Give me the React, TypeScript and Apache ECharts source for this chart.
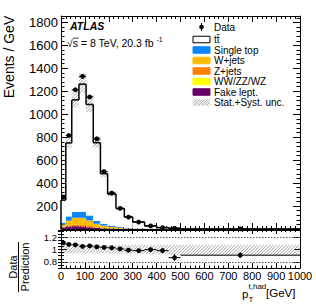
import React, { useEffect, useRef } from 'react';
import * as echarts from 'echarts';

// ---------- data ----------
const binEdges = [0, 20, 45, 75, 105, 135, 165, 195, 230, 265, 300, 350, 400, 450, 500, 1000];
const dataValues = [280, 815, 1213, 1330, 1150, 785, 500, 313, 180, 104, 60, 27, 12, 6, 0.8];
const dataErrors = [4, 6, 6, 7, 6, 5, 4, 3, 2.5, 2, 1.1, 0.8, 0.5, 0.4, 0.04];
const predictionTotal = [252, 750, 1125, 1262, 1085, 752, 482, 304, 178, 105, 61, 27, 12.2, 6.9, 0.88];
const fakeLept = [15, 22, 25, 22, 15, 9, 5, 3, 1.8, 1, 0.5, 0.2, 0.1, 0.05, 0.01];
const diboson = [0.5, 1, 1.2, 1.2, 1, 0.7, 0.5, 0.3, 0.2, 0.1, 0.05, 0.03, 0.01, 0.01, 0.002];
const zJets = [5, 9, 12, 12, 9, 6, 4, 2.5, 1.5, 0.8, 0.4, 0.2, 0.1, 0.05, 0.01];
const wJets = [18, 40, 60, 62, 50, 30, 20, 12, 7, 4, 2, 1, 0.5, 0.25, 0.04];
const singleTop = [16.5, 38, 50, 53, 43, 24, 16.5, 10, 6.3, 4.1, 2, 1.1, 0.5, 0.25, 0.04];
const uncUp = [0.075, 0.075, 0.075, 0.075, 0.075, 0.075, 0.075, 0.075, 0.075, 0.075, 0.075, 0.075, 0.075, 0.075, 0.075];
const uncDown = [0.06, 0.06, 0.06, 0.06, 0.06, 0.06, 0.06, 0.065, 0.065, 0.07, 0.07, 0.075, 0.08, 0.09, 0.1];

const bkgNames = ['Fake lept.', 'WW/ZZ/WZ', 'Z+jets', 'W+jets', 'Single top'];
const bkgSeries = [fakeLept, diboson, zJets, wJets, singleTop];
const bkgColors = ['#660066', '#ffff00', '#ff8000', '#ffbb00', '#0a86ff'];

const FONT = '"Liberation Sans", Arial, Helvetica, sans-serif';

function hatchSegs(x0: number, y0: number, x1: number, y1: number, s: number) {
  const segs: number[][] = [];
  const cStart = Math.ceil((x0 + y0) / s) * s;
  for (let c = cStart; c <= x1 + y1; c += s) {
    const xa = Math.max(x0, c - y1);
    const xb = Math.min(x1, c - y0);
    if (xb > xa) segs.push([xa, c - xa, xb, c - xb]);
  }
  return segs;
}
function hatchGroup(x0: number, y0: number, x1: number, y1: number, s = 3.2) {
  return {
    type: 'group',
    children: hatchSegs(x0, y0, x1, y1, s).map((g) => ({
      type: 'line',
      shape: { x1: g[0], y1: g[1], x2: g[2], y2: g[3] },
      style: { stroke: '#7a7a7a', lineWidth: 0.7 },
    })),
  };
}

export default function App() {
  const ref = useRef<HTMLDivElement>(null);
  useEffect(() => {
    document.body.style.margin = '0';
    const chart = echarts.init(ref.current!, null, { renderer: 'svg' });
    const n = dataValues.length;

    // stacked rectangles
    const stackItems: number[][] = [];
    const cum = new Array(n).fill(0);
    bkgSeries.forEach((arr, k) => {
      for (let i = 0; i < n; i++) {
        stackItems.push([binEdges[i], binEdges[i + 1], cum[i], cum[i] + arr[i], k]);
        cum[i] += arr[i];
      }
    });
    for (let i = 0; i < n; i++) {
      stackItems.push([binEdges[i], binEdges[i + 1], cum[i], predictionTotal[i], 5]);
    }
    const fills = [...bkgColors, '#ffffff'];

    const bandMain = predictionTotal.map((p, i) => [binEdges[i], binEdges[i + 1], p * (1 - uncDown[i]), p * (1 + uncUp[i])]);
    const bandRatio = predictionTotal.map((p, i) => [binEdges[i], binEdges[i + 1], 1 - uncDown[i], 1 + uncUp[i]]);
    const outline = predictionTotal.map((p, i) => [binEdges[i], binEdges[i + 1], p, i + 1 < n ? predictionTotal[i + 1] : 0, i === 0 ? 1 : 0]);
    const pts = dataValues.map((v, i) => [(binEdges[i] + binEdges[i + 1]) / 2, v, binEdges[i], binEdges[i + 1], dataErrors[i]]);
    const ratioPts = dataValues.map((v, i) => [(binEdges[i] + binEdges[i + 1]) / 2, v / predictionTotal[i], binEdges[i], binEdges[i + 1], dataErrors[i] / predictionTotal[i]]);

    const black = { color: '#000', width: 1 };
    const xAx = (gridIndex: number, position: string, labels: boolean, tickLen: number) => ({
      type: 'value', gridIndex, position, min: 0, max: 1000, interval: 100,
      axisLine: { show: true, onZero: false, lineStyle: black },
      axisTick: { show: true, inside: true, length: tickLen, lineStyle: black },
      minorTick: { show: true, splitNumber: 5, length: tickLen / 2, lineStyle: black },
      axisLabel: { show: labels, color: '#000', fontSize: 11, fontFamily: FONT, margin: 2, formatter: (v: number) => String(v) },
      splitLine: { show: false }, minorSplitLine: { show: false },
    });
    const yMain = (position: string, labels: boolean) => ({
      type: 'value', gridIndex: 0, position, min: 0, max: 1856, interval: 200,
      axisLine: { show: true, onZero: false, lineStyle: black },
      axisTick: { show: true, inside: true, length: 7, lineStyle: black },
      minorTick: { show: true, splitNumber: 5, length: 3.5, lineStyle: black },
      axisLabel: {
        show: labels, color: '#000', fontSize: 13, fontFamily: FONT, margin: 3, showMaxLabel: false,
        formatter: (v: number) => (v > 0 && v % 200 === 0 ? String(v) : ''),
      },
      splitLine: { show: false },
    });
    const ratioLabels = [0.8, 1, 1.2];
    const yRatioMajor = (position: string, labels: boolean) => ({
      type: 'value', gridIndex: 1, position, min: 0.7, max: 1.32, interval: 0.05,
      axisLine: { show: true, onZero: false, lineStyle: black },
      axisTick: { show: true, inside: true, length: 6, lineStyle: black, customValues: ratioLabels },
      axisLabel: {
        show: labels, color: '#000', fontSize: 9.5, fontFamily: FONT, margin: 4, customValues: ratioLabels,
        formatter: (v: number) => (Math.abs(v - 1) < 1e-6 ? '1' : v.toFixed(1)),
      },
      splitLine: { show: false },
    });
    const yRatioMinor = (position: string) => ({
      type: 'value', gridIndex: 1, position, min: 0.7, max: 1.32, interval: 0.05,
      axisLine: { show: false },
      axisTick: { show: true, inside: true, length: 3, lineStyle: black },
      axisLabel: { show: false },
      splitLine: { show: false },
    });

    // legend graphics
    const lx = 193, lw = 17, lh = 6.5, tx = 214;
    const rows = [27, 39.5, 50, 60.5, 71, 81.5, 92, 102.5];
    const legendEntries: { label: string; kind: string; color?: string }[] = [
      { label: 'Data', kind: 'data' },
      { label: 't\u0074\u0304', kind: 'box', color: '#ffffff' },
      { label: bkgNames[4], kind: 'box', color: bkgColors[4] },
      { label: bkgNames[3], kind: 'box', color: bkgColors[3] },
      { label: bkgNames[2], kind: 'box', color: bkgColors[2] },
      { label: bkgNames[1], kind: 'box', color: bkgColors[1] },
      { label: bkgNames[0], kind: 'box', color: bkgColors[0] },
      { label: 'Stat.+Syst. unc.', kind: 'hatch' },
    ];
    const gfx: any[] = [];
    legendEntries.forEach((e, i) => {
      const y = rows[i];
      if (e.kind === 'data') {
        gfx.push({ type: 'line', shape: { x1: lx + lw / 2, y1: y - 4, x2: lx + lw / 2, y2: y + 4 }, style: { stroke: '#000', lineWidth: 1 } });
        gfx.push({ type: 'circle', shape: { cx: lx + lw / 2, cy: y, r: 2.3 }, style: { fill: '#000' } });
      } else if (e.kind === 'box') {
        gfx.push({ type: 'rect', shape: { x: lx, y: y - lh / 2, width: lw, height: lh }, style: { fill: e.color, stroke: e.color === '#ffffff' ? '#000' : e.color, lineWidth: 1 } });
      } else {
        const g: any = hatchGroup(lx, y - lh / 2, lx + lw, y + lh / 2, 2.6);
        gfx.push(g);
      }
      gfx.push({ type: 'text', x: tx, y, style: { text: e.label, fill: '#000', font: `10px ${FONT}`, align: 'left', verticalAlign: 'middle', textAlign: 'left', textVerticalAlign: 'middle' } });
    });
    const txt = (text: string, x: number, y: number, font: string, align = 'left', rotation = 0) => ({
      type: 'text', x, y, rotation,
      style: { text, fill: '#000', font, align, verticalAlign: 'middle', textAlign: align, textVerticalAlign: 'middle' },
    });
    gfx.push(txt('ATLAS', 70, 26, `italic bold 10.5px ${FONT}`));
    gfx.push(txt('\u221As = 8 TeV, 20.3 fb', 67, 43, `10.5px ${FONT}`));
    gfx.push({ type: 'line', shape: { x1: 73, y1: 38.2, x2: 78.5, y2: 38.2 }, style: { stroke: '#000', lineWidth: 0.8 } });
    gfx.push(txt('-1', 156.5, 39, `7px ${FONT}`));
    gfx.push(txt('Events / GeV', 9, 57, `14px ${FONT}`, 'center', Math.PI / 2));
    gfx.push(txt('Data', 13, 267, `11px ${FONT}`, 'center', Math.PI / 2));
    gfx.push({ type: 'line', shape: { x1: 18.5, y1: 242, x2: 18.5, y2: 292 }, style: { stroke: '#000', lineWidth: 1 } });
    gfx.push(txt('Prediction', 24.5, 267, `11px ${FONT}`, 'center', Math.PI / 2));
    gfx.push(txt('p', 242, 293.5, `11.5px ${FONT}`));
    gfx.push(txt('t,had', 248.5, 286.5, `8px ${FONT}`));
    gfx.push(txt('T', 248.5, 299.5, `8px ${FONT}`));
    gfx.push(txt('[GeV]', 266, 293, `11.5px ${FONT}`));

    chart.setOption({
      animation: false,
      grid: [
        { left: 61, top: 16, width: 239, height: 213, show: false },
        { left: 61, top: 230, width: 239, height: 38, show: false },
      ],
      xAxis: [xAx(0, 'bottom', false, 6), xAx(0, 'top', false, 6), xAx(1, 'bottom', true, 5), xAx(1, 'top', false, 4)],
      yAxis: [yMain('left', true), yMain('right', false), yRatioMajor('left', true), yRatioMajor('right', false), yRatioMinor('left'), yRatioMinor('right')],
      series: [
        {
          type: 'custom', xAxisIndex: 0, yAxisIndex: 0, clip: true, data: stackItems,
          encode: { x: [0, 1], y: [2, 3] },
          renderItem: (p: any, api: any) => {
            const a = api.coord([api.value(0), api.value(2)]);
            const b = api.coord([api.value(1), api.value(3)]);
            return { type: 'rect', shape: { x: a[0], y: b[1], width: b[0] - a[0], height: a[1] - b[1] }, style: { fill: fills[api.value(4)] } };
          },
        },
        {
          type: 'custom', xAxisIndex: 0, yAxisIndex: 0, clip: true, data: bandMain,
          encode: { x: [0, 1], y: [2, 3] },
          renderItem: (p: any, api: any) => {
            const cs = p.coordSys;
            const a = api.coord([api.value(0), api.value(2)]);
            const b = api.coord([api.value(1), api.value(3)]);
            const y0 = Math.max(b[1], cs.y), y1 = Math.min(a[1], cs.y + cs.height);
            return hatchGroup(a[0], y0, b[0], y1, 3.2);
          },
        },
        {
          type: 'custom', xAxisIndex: 0, yAxisIndex: 0, clip: false, data: outline,
          encode: { x: [0, 1], y: 2 },
          renderItem: (p: any, api: any) => {
            const a = api.coord([api.value(0), api.value(2)]);
            const b = api.coord([api.value(1), api.value(2)]);
            const c = api.coord([api.value(1), api.value(3)]);
            const st = { stroke: '#000', lineWidth: 1.5 };
            const ch: any[] = [
              { type: 'line', shape: { x1: a[0], y1: a[1], x2: b[0], y2: b[1] }, style: st },
              { type: 'line', shape: { x1: b[0], y1: b[1], x2: c[0], y2: c[1] }, style: st },
            ];
            if (api.value(4) === 1) {
              const z = api.coord([api.value(0), 0]);
              ch.push({ type: 'line', shape: { x1: z[0], y1: z[1], x2: a[0], y2: a[1] }, style: st });
            }
            return { type: 'group', children: ch };
          },
        },
        {
          type: 'custom', xAxisIndex: 0, yAxisIndex: 0, clip: false, data: pts, z: 5,
          encode: { x: 0, y: 1 },
          renderItem: (p: any, api: any) => {
            const y = api.value(1), e = api.value(4);
            const c = api.coord([api.value(0), y]);
            const l = api.coord([api.value(2), y]);
            const r = api.coord([api.value(3), y]);
            const t = api.coord([api.value(0), y + e]);
            const bt = api.coord([api.value(0), y - e]);
            return {
              type: 'group', children: [
                { type: 'line', shape: { x1: l[0], y1: l[1], x2: r[0], y2: r[1] }, style: { stroke: '#000', lineWidth: 1 } },
                { type: 'line', shape: { x1: t[0], y1: t[1], x2: bt[0], y2: bt[1] }, style: { stroke: '#000', lineWidth: 1 } },
                { type: 'circle', shape: { cx: c[0], cy: c[1], r: 2.4 }, style: { fill: '#000' } },
              ],
            };
          },
        },
        {
          type: 'custom', xAxisIndex: 2, yAxisIndex: 2, clip: true, data: bandRatio,
          encode: { x: [0, 1], y: [2, 3] },
          renderItem: (p: any, api: any) => {
            const a = api.coord([api.value(0), api.value(2)]);
            const b = api.coord([api.value(1), api.value(3)]);
            return hatchGroup(a[0], b[1], b[0], a[1], 3.2);
          },
          markLine: {
            silent: true, symbol: 'none', label: { show: false },
            lineStyle: { type: [1.5, 1.5], color: '#555', width: 1 },
            data: [{ yAxis: 0.8 }, { yAxis: 1.2 }],
          },
        },
        {
          type: 'custom', xAxisIndex: 2, yAxisIndex: 2, clip: true, data: ratioPts, z: 5,
          encode: { x: 0, y: 1 },
          renderItem: (p: any, api: any) => {
            const y = api.value(1), e = api.value(4);
            const c = api.coord([api.value(0), y]);
            const l = api.coord([api.value(2), y]);
            const r = api.coord([api.value(3), y]);
            const t = api.coord([api.value(0), y + e]);
            const bt = api.coord([api.value(0), y - e]);
            return {
              type: 'group', children: [
                { type: 'line', shape: { x1: l[0], y1: l[1], x2: r[0], y2: r[1] }, style: { stroke: '#000', lineWidth: 1 } },
                { type: 'line', shape: { x1: t[0], y1: t[1], x2: bt[0], y2: bt[1] }, style: { stroke: '#000', lineWidth: 1 } },
                { type: 'circle', shape: { cx: c[0], cy: c[1], r: 2.4 }, style: { fill: '#000' } },
              ],
            };
          },
        },
      ],
      graphic: { elements: gfx },
    });
    return () => chart.dispose();
  }, []);
  return <div ref={ref} style={{ width: 316, height: 306 }} />;
}
